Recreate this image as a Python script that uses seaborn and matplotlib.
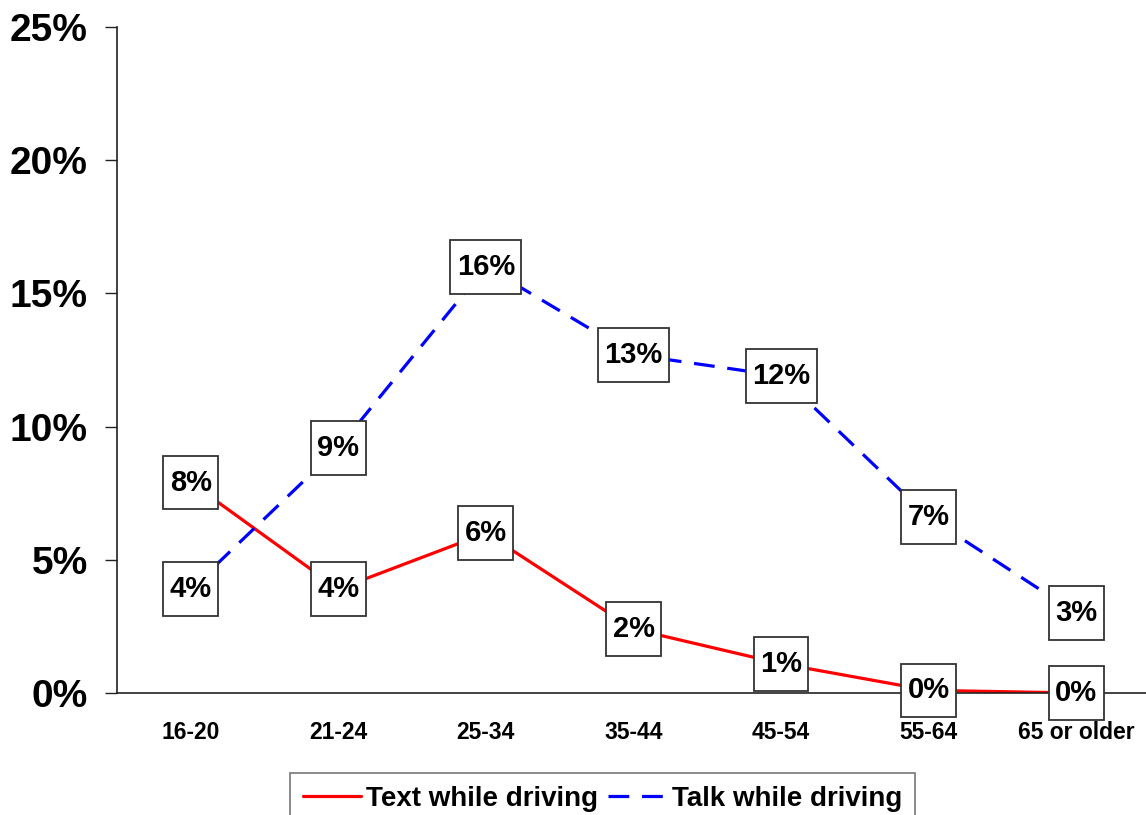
import pandas as pd
import matplotlib.pyplot as plt
import seaborn as sns

# Values (percent)
age_groups = ["16-20", "21-24", "25-34", "35-44", "45-54", "55-64", "65 or older"]
text_driving = [7.9, 3.9, 6.0, 2.4, 1.1, 0.1, 0.0]
talk_driving = [3.9, 9.2, 16.0, 12.7, 11.9, 6.6, 3.0]
series_names = ["Text while driving", "Talk while driving"]
y_ticks = [0, 5, 10, 15, 20, 25]

sns.set_style("white")
plt.rcParams["font.family"] = ["Liberation Sans", "DejaVu Sans"]
plt.rcParams["font.weight"] = "bold"
plt.rcParams["text.color"] = "black"
plt.rcParams["xtick.labelcolor"] = "black"
plt.rcParams["ytick.labelcolor"] = "black"

# Long format for seaborn
df = pd.DataFrame(
    {
        "Age": age_groups * 2,
        "Share": text_driving + talk_driving,
        "Series": [series_names[0]] * len(age_groups)
        + [series_names[1]] * len(age_groups),
    }
)

fig = plt.figure(figsize=(11.46, 8.15), dpi=100)
ax = fig.add_axes([117 / 1146, 1 - 693 / 815, 1033 / 1146, 666 / 815])

sns.lineplot(
    data=df,
    x="Age",
    y="Share",
    hue="Series",
    style="Series",
    palette={series_names[0]: "#ff0000", series_names[1]: "#0000ff"},
    dashes={series_names[0]: "", series_names[1]: (6.5, 4)},
    linewidth=2.3,
    sort=False,
    legend=False,
    ax=ax,
)

# Boxed data labels centred on each point (taller than wide padding)
for values in [text_driving, talk_driving]:
    for i, v in enumerate(values):
        ax.text(
            i,
            v,
            f"{v:.0f}%",
            ha="center",
            va="center",
            fontsize=21,
            fontweight="bold",
            color="black",
            zorder=5,
            clip_on=False,
            bbox=dict(
                boxstyle="square,pad=0.22",
                mutation_aspect=2.0,
                fc="white",
                ec="#333333",
                lw=1.3,
            ),
        )

ax.set_xlim(-0.5, 6.5)
ax.set_ylim(0, 25)
ax.set_yticks(y_ticks)
ax.set_yticklabels([f"{t}%" for t in y_ticks], fontsize=28, fontweight="bold")
ax.set_xticks(range(len(age_groups)))
ax.set_xticklabels(age_groups, fontsize=16.5, fontweight="bold")
ax.set_xticks([i - 0.5 for i in range(len(age_groups) + 1)], minor=True)
ax.tick_params(axis="x", which="major", length=0, pad=20)
ax.tick_params(axis="x", which="minor", length=8, width=1, direction="out", color="#222222")
ax.tick_params(axis="y", length=9, width=1, direction="out", pad=12, color="#222222", left=True)
ax.set_xlabel("")
ax.set_ylabel("")

for side in ["top", "right"]:
    ax.spines[side].set_visible(False)
for side in ["left", "bottom"]:
    ax.spines[side].set_color("#222222")
    ax.spines[side].set_linewidth(1.2)

handles = ax.get_lines()[:2]
leg = fig.legend(
    handles=handles,
    labels=series_names,
    loc="upper left",
    bbox_to_anchor=(290 / 1146, 1 - 773 / 815),
    ncol=2,
    fontsize=20,
    frameon=True,
    fancybox=False,
    edgecolor="#555555",
    handlelength=2.1,
    handletextpad=0.2,
    columnspacing=0.35,
    borderpad=0.45,
    borderaxespad=0,
)
leg.get_frame().set_linewidth(1.2)
for t in leg.get_texts():
    t.set_fontweight("bold")

fig.savefig("out.png", dpi=100)
